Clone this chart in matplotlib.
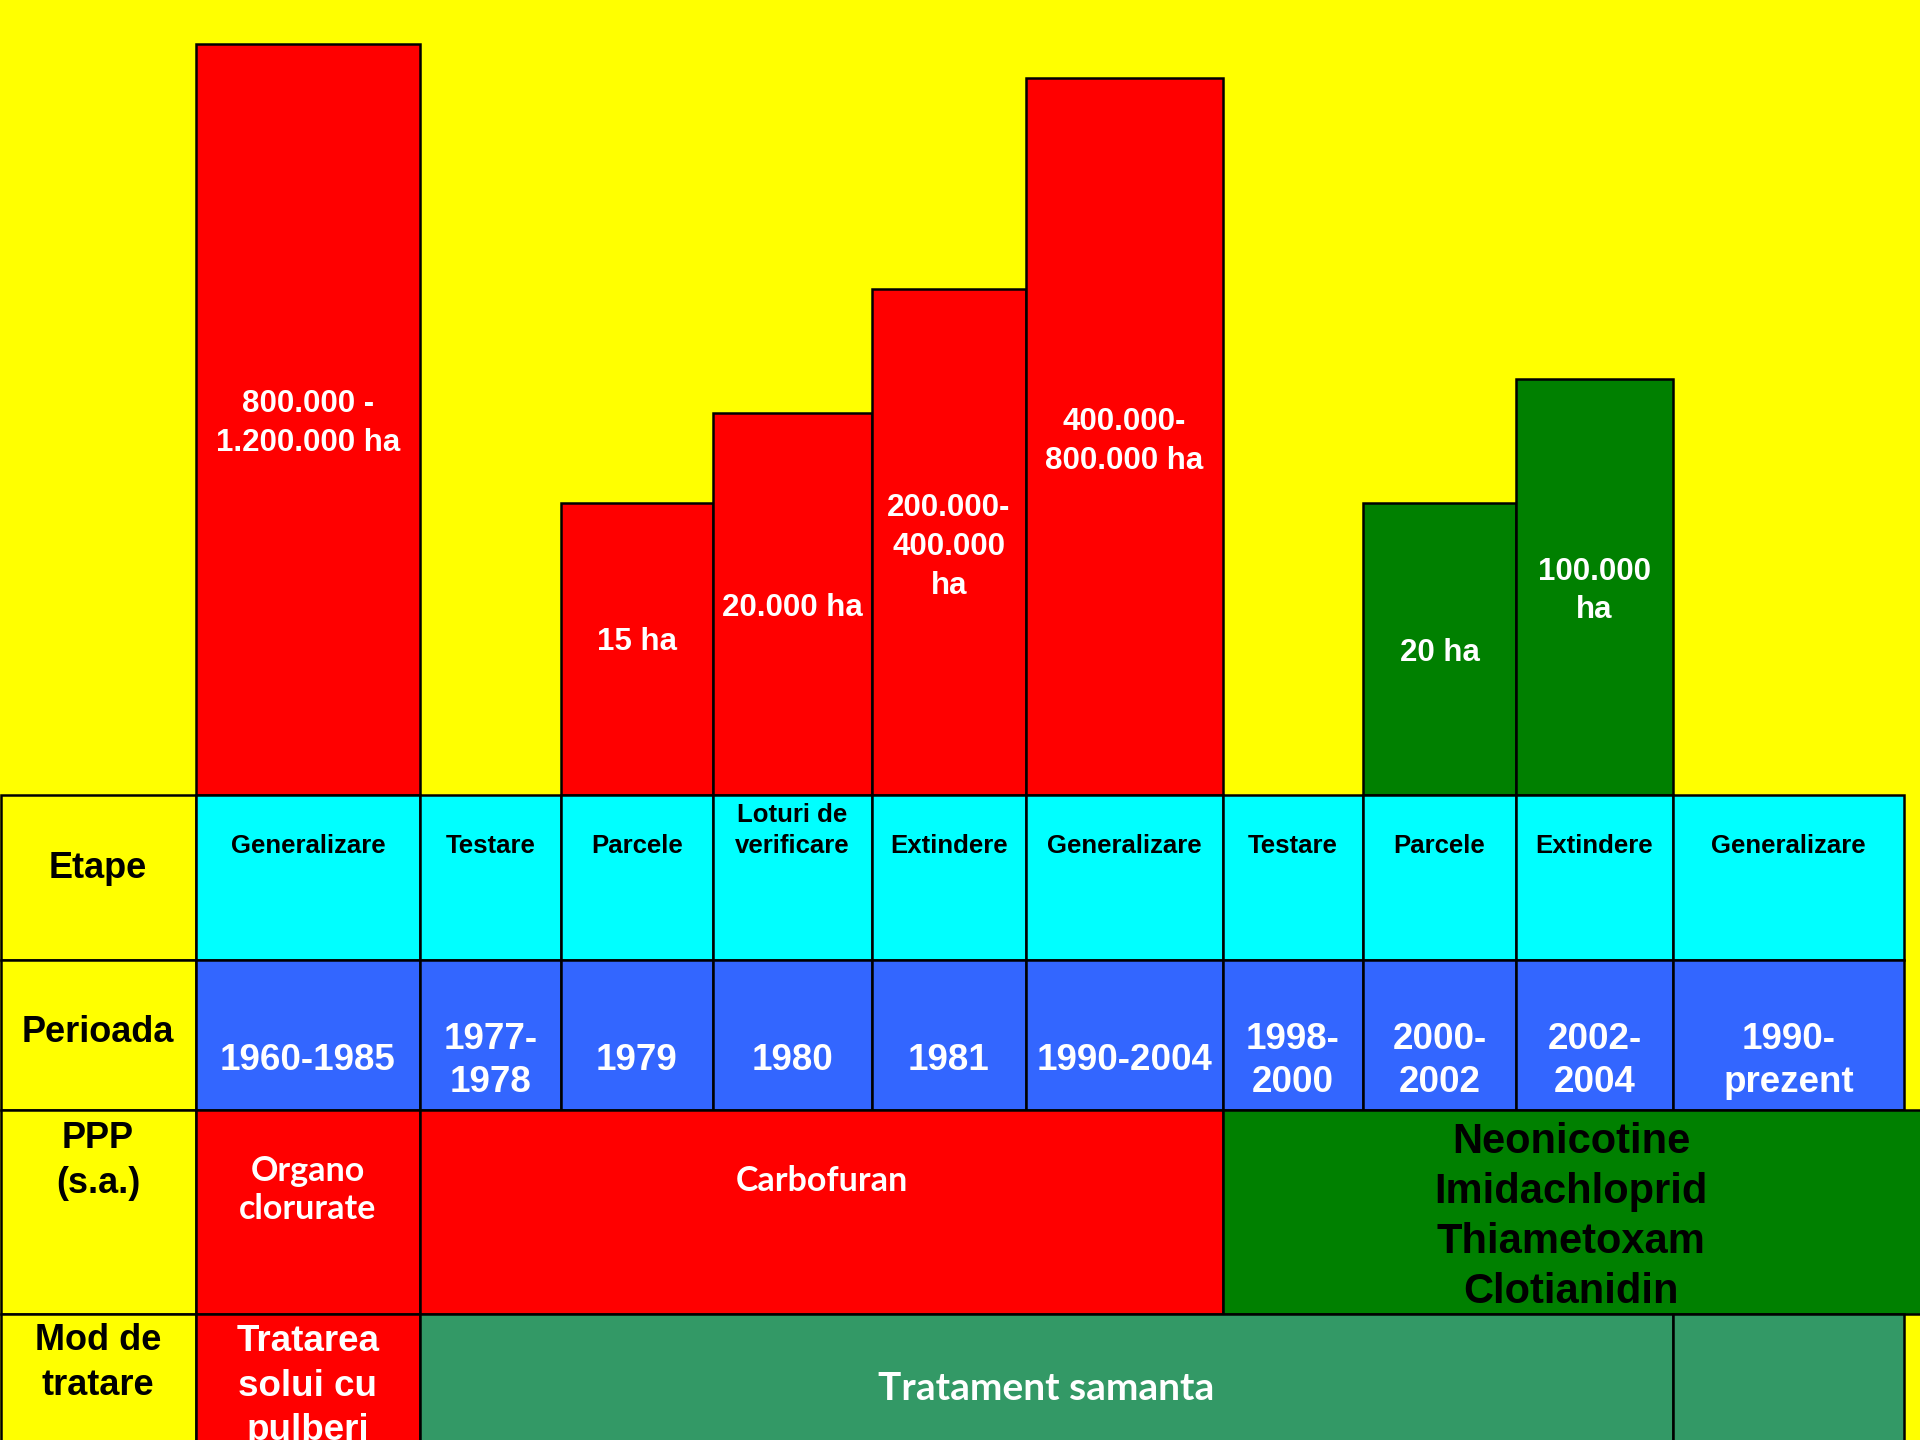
import numpy as np
import matplotlib
matplotlib.use("Agg")
from matplotlib import pyplot as plt

# ---- data -----------------------------------------------------------------
etape = ["Generalizare", "Testare", "Parcele", "Loturi de\nverificare", "Extindere",
         "Generalizare", "Testare", "Parcele", "Extindere", "Generalizare"]
perioada = ["1960-1985", "1977-\n1978", "1979", "1980", "1981", "1990-2004",
            "1998-\n2000", "2000-\n2002", "2002-\n2004", "1990-\nprezent"]
# relative bar heights as drawn in the slide (not to scale)
suprafata = [751, 0, 292, 382, 506, 717, 0, 292, 416, 0]
suprafata_txt = ["800.000 -\n1.200.000 ha", "", "15 ha", "20.000 ha",
                 "200.000-\n400.000\nha", "400.000-\n800.000 ha", "",
                 "20 ha", "100.000\nha", ""]
grup = ["vechi"] * 6 + ["nou"] * 4

ppp_txt = ["Organo\nclorurate", "Carbofuran",
           "Neonicotine\nImidachloprid\nThiametoxam\nClotianidin"]
ppp_cols = [(0, 1), (1, 6), (6, 10)]
mod_txt = ["Tratarea\nsolui cu\npulberi", "Tratament samanta", ""]
mod_cols = [(0, 1), (1, 9), (9, 10)]
row_names = ["Etape", "Perioada", "PPP\n(s.a.)", "Mod de\ntratare"]

# ---- layout ---------------------------------------------------------------
YELLOW, RED, GREEN = "#FFFF00", "#FF0000", "#008000"
CYAN, BLUE, SEA = "#00FFFF", "#3366FF", "#339966"
col_edges = np.array([196, 420, 561, 713, 872, 1026, 1223, 1363, 1516, 1673, 1904])
row_edges = [0, -165, -315, -519, -720]   # y below the bar baseline
label_shift = [-4, 0, 7, -4, -5, -5, 0, -4, -4, 0]  # nudge of bar labels
lw = 1.8
ARIAL = "Liberation Sans"
CALIBRI = "Lato"

fig = plt.figure(figsize=(19.2, 14.4), dpi=100, facecolor=YELLOW)
ax = fig.add_axes([0, 0, 1, 1])
ax.set_xlim(0, 1920)
ax.set_ylim(-645, 795)
ax.axis("off")

lefts = col_edges[:-1]
widths = np.diff(col_edges)
centers = lefts + widths / 2
cmap = {"vechi": RED, "nou": GREEN}

# bars above the table
has_bar = np.array(suprafata) > 0
ax.bar(lefts[has_bar], np.array(suprafata)[has_bar], width=widths[has_bar],
       align="edge", color=[cmap[g] for g, b in zip(grup, has_bar) if b],
       edgecolor="k", linewidth=lw, zorder=2)
for x, h, t, dy in zip(centers, suprafata, suprafata_txt, label_shift):
    if t:
        ax.text(x, h / 2 + dy, t, ha="center", va="center", color="white",
                fontsize=22.5, fontweight="bold", family=ARIAL,
                linespacing=1.38, zorder=3)


def cell(x0, x1, r, color):
    ax.bar(x0, row_edges[r] - row_edges[r + 1], width=x1 - x0,
           bottom=row_edges[r + 1], align="edge", color=color,
           edgecolor="k", linewidth=lw, zorder=2)


# row header column
for r, name in enumerate(row_names):
    cell(1, col_edges[0], r, YELLOW)
label_y = [-73, -237, -366, -568]
for y, name in zip(label_y, row_names):
    ax.text(98, y, name, ha="center", va="center", fontsize=26,
            fontweight="bold", family=ARIAL, linespacing=1.38, zorder=3)

# Etape / Perioada rows
for i in range(len(etape)):
    cell(col_edges[i], col_edges[i + 1], 0, CYAN)
    cell(col_edges[i], col_edges[i + 1], 1, BLUE)
    ax.text(centers[i], -63, etape[i], ha="center", va="bottom",
            fontsize=18.5, fontweight="bold", family=ARIAL,
            linespacing=1.35, zorder=3)
    ax.text(centers[i], -266, perioada[i], ha="center", va="center",
            color="white", fontsize=26.5, fontweight="bold", family=ARIAL,
            linespacing=1.28, zorder=3)

# PPP row
ppp_colors = [RED, RED, GREEN]
ppp_right = [None, None, 1930]
for (a, b), c, rr in zip(ppp_cols, ppp_colors, ppp_right):
    cell(col_edges[a], rr or col_edges[b], 2, c)
ax.text((col_edges[0] + col_edges[1]) / 2, -395, ppp_txt[0], ha="center",
        va="center", color="white", fontsize=24.5, fontweight="bold",
        family=CALIBRI, linespacing=1.25, zorder=3)
ax.text((col_edges[1] + col_edges[6]) / 2, -386, ppp_txt[1], ha="center",
        va="center", color="white", fontsize=24.5, fontweight="bold",
        family=CALIBRI, zorder=3)
ax.text(1571, -422, ppp_txt[2], ha="center", va="center", color="black",
        fontsize=30, fontweight="bold", family=ARIAL, linespacing=1.32,
        zorder=3)

# Mod de tratare row
mod_colors = [RED, SEA, SEA]
for (a, b), c in zip(mod_cols, mod_colors):
    cell(col_edges[a], col_edges[b], 3, c)
ax.text((col_edges[0] + col_edges[1]) / 2, -591, mod_txt[0], ha="center",
        va="center", color="white", fontsize=26.5, fontweight="bold",
        family=ARIAL, linespacing=1.36, zorder=3)
ax.text((col_edges[1] + col_edges[9]) / 2, -593, mod_txt[1], ha="center",
        va="center", color="white", fontsize=28, fontweight="bold",
        family=CALIBRI, zorder=3)

fig.savefig("out.png", dpi=100, facecolor=YELLOW)
